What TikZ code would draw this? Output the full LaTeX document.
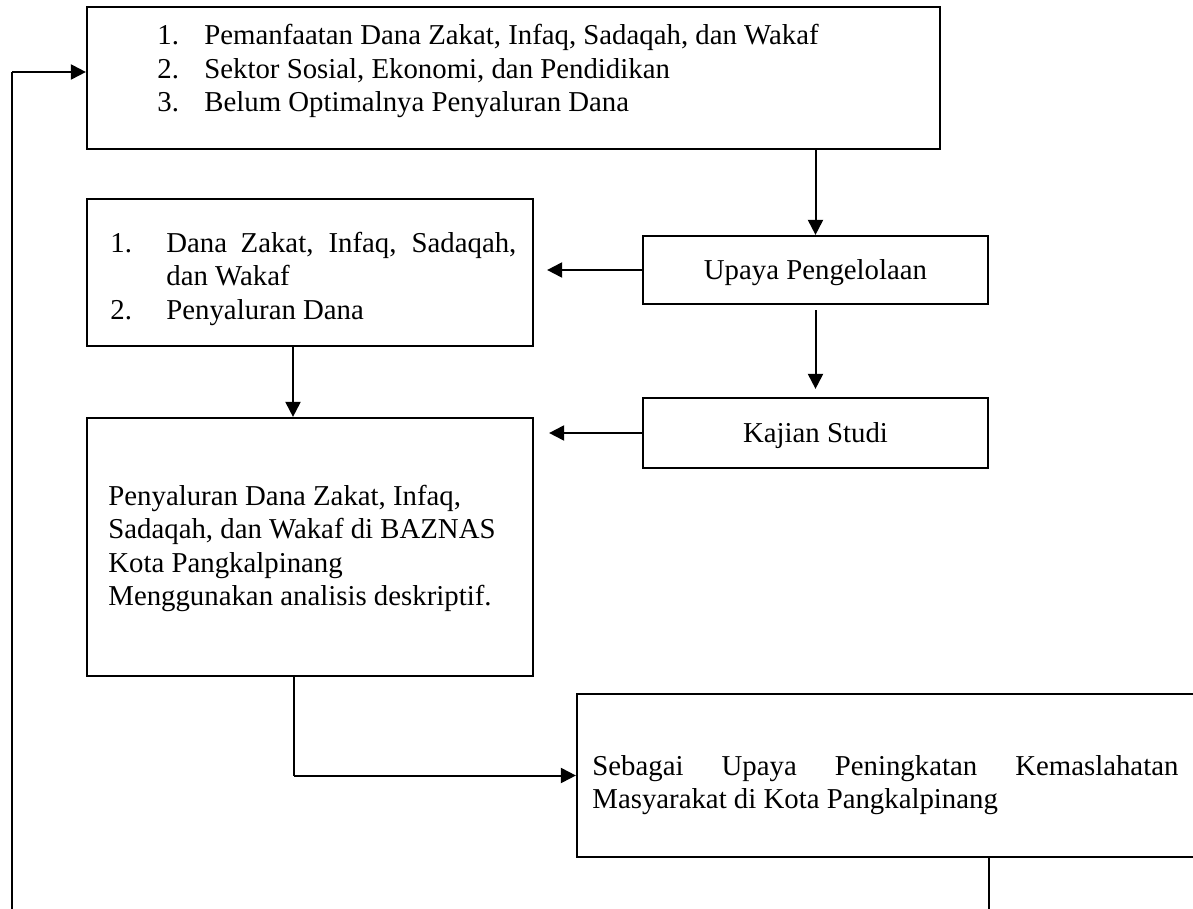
\documentclass[tikz,border=0pt]{standalone}
\usepackage{fontspec}
\setmainfont{Liberation Serif}
\usetikzlibrary{arrows.meta}

\begin{document}
\begin{tikzpicture}[x=0.5pt,y=-0.5pt,
  font=\fontsize{14.4}{16.75}\selectfont,
  box/.style={draw,line width=1.1pt,inner sep=0pt},
  onebox/.style={box,text height=9.5pt,text depth=0pt},
  txt/.style={inner sep=0pt,anchor=base west},
  arr/.style={-{Triangle[length=7.5pt,width=7.5pt]},line width=1pt},
  thinline/.style={line width=0.6pt}]
  \clip (0,0) rectangle (1193,909);
  \fill[white] (0,0) rectangle (1193,909);

  % kotak
  \node[box,minimum width=426.5pt,minimum height=71pt]   (masalah)  at (513.5,78)  {};
  \node[box,minimum width=223pt,minimum height=73.5pt]   (variabel) at (310,272.5) {};
  \node[onebox,minimum width=172.5pt,minimum height=34pt] (upaya)   at (815.5,270) {Upaya Pengelolaan};
  \node[onebox,minimum width=172.5pt,minimum height=35pt] (kajian)  at (815.5,433) {Kajian Studi};
  \node[box,minimum width=223pt,minimum height=129pt]    (analisis) at (310,547)   {};
  \node[box,minimum width=316.5pt,minimum height=81.5pt] (hasil)    at (893.5,775.5) {};

  % isi kotak
  \node[txt] (masalah-t) at (157,45) {\begin{tabular}[t]{@{}p{23.5pt}@{}l@{}}
    1. & Pemanfaatan Dana Zakat, Infaq, Sadaqah, dan Wakaf\\
    2. & Sektor Sosial, Ekonomi, dan Pendidikan\\
    3. & Belum Optimalnya Penyaluran Dana
  \end{tabular}};
  \node[txt] (variabel-t) at (110,252) {\begin{tabular}[t]{@{}p{28pt}@{}l@{}}
    1. & \makebox[175pt][s]{Dana Zakat, Infaq, Sadaqah,}\\
       & dan Wakaf\\
    2. & Penyaluran Dana
  \end{tabular}};
  \node[txt] (analisis-t) at (108,505) {\begin{tabular}[t]{@{}l@{}}
    Penyaluran Dana Zakat, Infaq,\\
    Sadaqah, dan Wakaf di BAZNAS\\
    Kota Pangkalpinang\\
    Menggunakan analisis deskriptif.
  \end{tabular}};
  \node[txt] (hasil-t) at (592,775) {\begin{tabular}[t]{@{}l@{}}
    \makebox[293pt][s]{Sebagai Upaya Peningkatan Kemaslahatan}\\
    Masyarakat di Kota Pangkalpinang
  \end{tabular}};

  % garis
  \coordinate (kiri)  at (12,909);
  \coordinate (putar) at (12,72);
  \coordinate (bawah) at (989,909);
  \coordinate (turun) at ([xshift=-8pt]analisis.south);

  \draw[thinline] (kiri) -- (putar);
  \draw[arr] (putar) -- (putar -| masalah.west);
  \draw[arr] (masalah.south -| upaya.north) -- (upaya.north);
  \draw[arr,shorten >=6.5pt] (upaya.west) -- (upaya.west -| variabel.east);
  \draw[arr,shorten <=2.5pt,shorten >=4pt] (upaya.south) -- (kajian.north);
  \draw[arr,shorten >=7.5pt] (kajian.west) -- (kajian.west -| analisis.east);
  \draw[arr] ([xshift=-8.5pt]variabel.south) -- ([xshift=-8.5pt]analisis.north);
  \draw[thinline] (turun) -- (turun |- hasil.west);
  \draw[arr] (turun |- hasil.west) -- (hasil.west);
  \draw[thinline] (hasil.south -| bawah) -- (bawah);
\end{tikzpicture}
\end{document}
